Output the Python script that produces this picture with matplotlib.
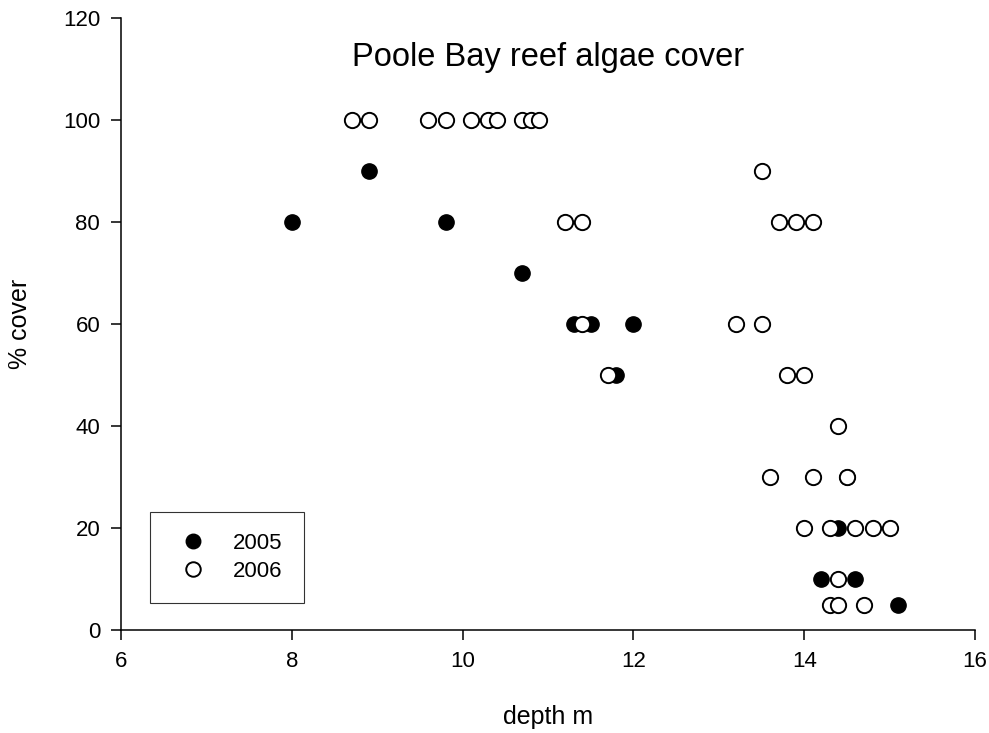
import matplotlib.pyplot as plt

plt.rcParams['font.family'] = ['Liberation Sans', 'DejaVu Sans']

# 2005 samples (filled)
depth_2005 = [8.0, 8.9, 9.8, 10.7, 11.3, 11.5, 12.0, 11.8, 14.5, 14.4, 14.2, 14.6, 15.1]
cover_2005 = [80, 90, 80, 70, 60, 60, 60, 50, 30, 20, 10, 10, 5]

# 2006 samples (open)
depth_2006 = [8.7, 8.9, 9.6, 9.8, 10.1, 10.3, 10.4, 10.7, 10.8, 10.9,
              13.5,
              11.2, 11.4, 13.7, 13.9, 14.1,
              11.4, 13.2, 13.5,
              11.7, 13.8, 14.0,
              14.4,
              13.6, 14.1, 14.5,
              14.0, 14.3, 14.6, 14.8, 15.0,
              14.4,
              14.3, 14.4, 14.7]
cover_2006 = [100] * 10 + [90] + [80] * 5 + [60] * 3 + [50] * 3 + [40] + [30] * 3 + [20] * 5 + [10] + [5] * 3

fig = plt.figure(figsize=(9.89, 7.33), dpi=100)
ax = fig.add_axes([121 / 989, 1 - 630 / 733, (975 - 121) / 989, (630 - 18) / 733])

ax.plot(depth_2005, cover_2005, 'o', color='black', markersize=11, zorder=3, label='2005')
ax.plot(depth_2006, cover_2006, 'o', markerfacecolor='white', markeredgecolor='black',
        markeredgewidth=1.4, markersize=11, zorder=4, label='2006')

ax.set_xlim(6, 16)
ax.set_ylim(0, 120)
ax.set_xticks([6, 8, 10, 12, 14, 16])
ax.set_yticks([0, 20, 40, 60, 80, 100, 120])
ax.spines['top'].set_visible(False)
ax.spines['right'].set_visible(False)
for s in ['left', 'bottom']:
    ax.spines[s].set_linewidth(1.1)
ax.tick_params(direction='out', length=7, width=1.1, labelsize=16, pad=8)
ax.set_xlabel('depth m', fontsize=18, labelpad=24)
ax.set_ylabel('% cover', fontsize=18, labelpad=22)

ax.text(0.5, 0.935, 'Poole Bay reef algae cover', transform=ax.transAxes,
        ha='center', va='center', fontsize=23.5)

leg = ax.legend(loc='lower left', bbox_to_anchor=(29 / 854, 27 / 612), frameon=True,
                fancybox=False, edgecolor='black', fontsize=16, handletextpad=0.8,
                borderpad=0.95, borderaxespad=0, markerscale=0.95, labelspacing=0.3)
leg.get_frame().set_linewidth(0.8)

fig.savefig('out.png', dpi=100)
